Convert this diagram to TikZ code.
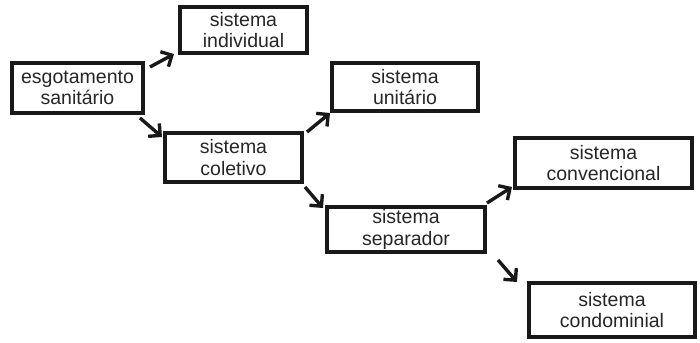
\documentclass[tikz,border=0pt]{standalone}
\usepackage{fontspec}
\setmainfont{Liberation Sans}
\usetikzlibrary{arrows.meta}
\begin{document}
\begin{tikzpicture}[x=1pt,y=-1pt,
  box/.style={draw=black!90,line width=3.5pt,inner sep=0pt,align=center,
    font=\fontsize{19.5}{21.5}\selectfont,text=black!85},
  arr/.style={draw=black!90,line width=3.4pt,-{Straight Barb[length=8.5pt,width=17pt]}}]
\useasboundingbox (0,0) rectangle (700,342);
\node[box,minimum width=131pt,minimum height=50pt] (esg) at (77.5,88) {esgotamento\\sanitário};
\node[box,minimum width=127pt,minimum height=46pt] (ind) at (243.5,30) {sistema\\individual};
\node[box,minimum width=137pt,minimum height=49pt] (col) at (233.5,157.5) {sistema\\coletivo};
\node[box,minimum width=146pt,minimum height=48pt] (uni) at (405,87) {sistema\\unitário};
\node[box,minimum width=158pt,minimum height=45pt] (sep) at (406,229.5) {sistema\\separador};
\node[box,minimum width=177pt,minimum height=50pt] (conv) at (603.5,163) {sistema\\convencional};
\node[box,minimum width=166pt,minimum height=54pt] (cond) at (612,310) {sistema\\condominial};
\coordinate (a1s) at (150,67);  \coordinate (a1e) at (174,54);
\coordinate (a2s) at (140,118); \coordinate (a2e) at (162,137);
\coordinate (a3s) at (307,132); \coordinate (a3e) at (330,113);
\coordinate (a4s) at (305,187); \coordinate (a4e) at (323,208);
\coordinate (a5s) at (487,203); \coordinate (a5e) at (512,187);
\coordinate (a6s) at (498,260); \coordinate (a6e) at (517,282);
\draw[arr] (a1s) -- (a1e);
\draw[arr] (a2s) -- (a2e);
\draw[arr] (a3s) -- (a3e);
\draw[arr] (a4s) -- (a4e);
\draw[arr] (a5s) -- (a5e);
\draw[arr] (a6s) -- (a6e);
\end{tikzpicture}
\end{document}
